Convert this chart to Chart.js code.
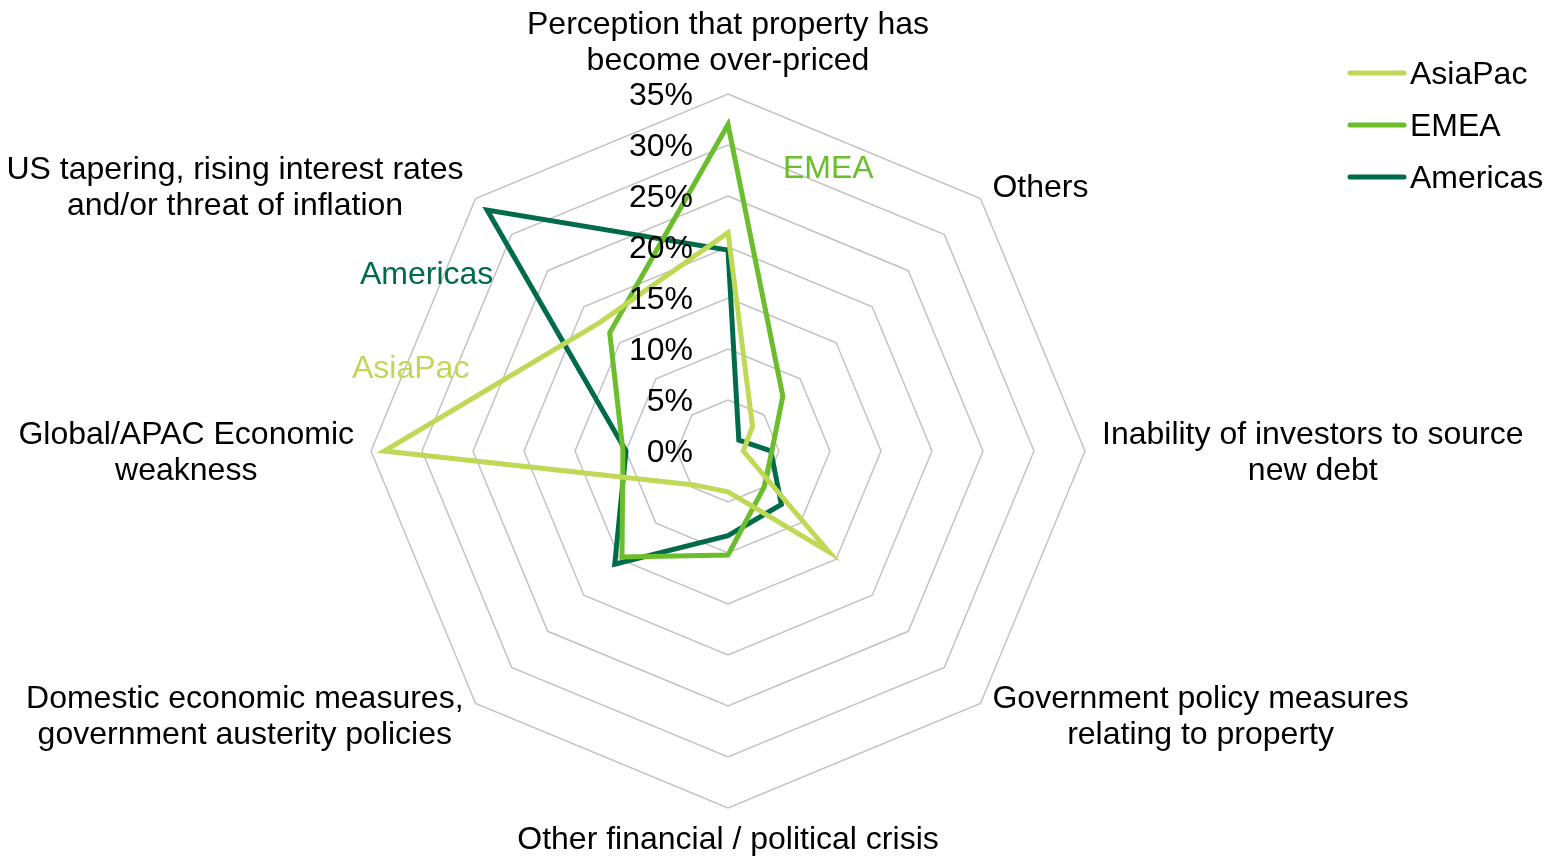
<!DOCTYPE html>
<html>
<head>
<meta charset="utf-8">
<script src="https://cdn.jsdelivr.net/npm/chart.js@4/dist/chart.umd.min.js"></script>
<style>
  body { margin: 0; background: #fff; }
  #wrap { width: 1560px; height: 857px; position: relative; }
</style>
</head>
<body>
<div id="wrap"><canvas id="radar"></canvas></div>
<script>
// categories, clockwise from the top
const categories = [
    ["Perception that property has", "become over-priced"],
    ["Others"],
    ["Inability of investors to source", "new debt"],
    ["Government policy measures", "relating to property"],
    ["Other financial / political crisis"],
    ["Domestic economic measures,", "government austerity policies"],
    ["Global/APAC Economic", "weakness"],
    ["US tapering, rising interest rates", "and/or threat of inflation"]
]

const seriesNames = ["AsiaPac", "EMEA", "Americas"]
const asiaPac = [21.4, 3.4, 1.5, 14.0, 4.0, 4.7, 33.7, 17.8]
const emea = [32.0, 7.6, 4.3, 5.0, 10.2, 14.7, 10.3, 16.4]
const americas = [19.7, 1.5, 4.2, 7.4, 8.3, 15.7, 10.0, 33.4]

const tickValues = [0, 5, 10, 15, 20, 25, 30, 35]

const colors = ["#bfd855", "#6abd2b", "#006b4b"]
const FONT = '32px "Liberation Sans", Arial, sans-serif'
const TEXT_SHIFT = 2 // nudge text down a touch so it sits on its anchor

// coloured series names written inside the plot (offsets from centre)
const seriesTags = [
    { name: "AsiaPac", dx: -376, dy: -84 },
    { name: "EMEA", dx: 55, dy: -284 },
    { name: "Americas", dx: -368, dy: -178 }
]

function drawLabelBlock(ctx, lines, x, y, hAlign, vAlign) {
    const lh = 36
    let w = 0
    for (const l of lines) w = Math.max(w, ctx.measureText(l).width)
    let cx = x
    if (hAlign === "left") cx = x + w / 2
    if (hAlign === "right") cx = x - w / 2
    const h = lines.length * lh
    let top = y - h / 2
    if (vAlign === "bottom") top = y - h
    if (vAlign === "top") top = y
    ctx.textAlign = "center"
    ctx.textBaseline = "middle"
    lines.forEach((l, i) => ctx.fillText(l, cx, top + lh * i + lh / 2 + TEXT_SHIFT))
}

const labelsPlugin = {
    id: "radarText",
    afterDraw(chart) {
        const ctx = chart.ctx
        const scale = chart.scales.r
        ctx.save()
        ctx.font = FONT
        ctx.fillStyle = "#000"

        // percent ticks to the left of the vertical axis
        ctx.textAlign = "right"
        ctx.textBaseline = "middle"
        for (const v of tickValues) {
            const p = scale.getPointPositionForValue(0, v)
            ctx.fillText(v + "%", scale.xCenter - 35, p.y + TEXT_SHIFT)
        }

        // category labels around the web
        const n = categories.length
        categories.forEach((lines, i) => {
            const gap = i === n / 2 ? 12 : 17
            const p = scale.getPointPosition(i, scale.drawingArea + gap)
            let h = "center", va = "middle"
            if (i > 0 && i < n / 2) h = "left"
            if (i > n / 2) h = "right"
            if (i === 0) va = "bottom"
            if (i === n / 2) va = "top"
            drawLabelBlock(ctx, lines, p.x, p.y, h, va)
        })

        // series tags
        ctx.textAlign = "left"
        ctx.textBaseline = "middle"
        for (const t of seriesTags) {
            ctx.fillStyle = colors[seriesNames.indexOf(t.name)]
            ctx.fillText(t.name, scale.xCenter + t.dx, scale.yCenter + t.dy + TEXT_SHIFT)
        }

        // legend
        ctx.lineWidth = 5
        ctx.lineCap = "round"
        seriesNames.forEach((name, i) => {
            const y = 73 + i * 52
            ctx.strokeStyle = colors[i]
            ctx.beginPath()
            ctx.moveTo(1350, y)
            ctx.lineTo(1404, y)
            ctx.stroke()
            ctx.fillStyle = "#000"
            ctx.fillText(name, 1410, y + TEXT_SHIFT)
        })
        ctx.restore()
    }
}

const seriesValues = [asiaPac, emea, americas]

new Chart(document.querySelector("#radar"), {
    type: "radar",
    data: {
        labels: categories,
        datasets: seriesNames.map((name, i) => ({
            label: name,
            data: seriesValues[i],
            borderColor: colors[i],
            backgroundColor: colors[i],
            borderWidth: 5,
            borderJoinStyle: "miter",
            pointRadius: 0,
            fill: false,
            tension: 0
        }))
    },
    options: {
        responsive: true,
        maintainAspectRatio: false,
        animation: false,
        layout: { padding: { left: 371, right: 475, top: 94, bottom: 49 } },
        plugins: {
            legend: { display: false },
            tooltip: { enabled: false }
        },
        scales: {
            r: {
                min: 0,
                max: 35,
                ticks: { stepSize: 5, display: false },
                grid: { color: "#c3c3c3", lineWidth: 1.5 },
                angleLines: { display: false },
                pointLabels: { display: false }
            }
        }
    },
    plugins: [labelsPlugin]
})
</script>
</body>
</html>
